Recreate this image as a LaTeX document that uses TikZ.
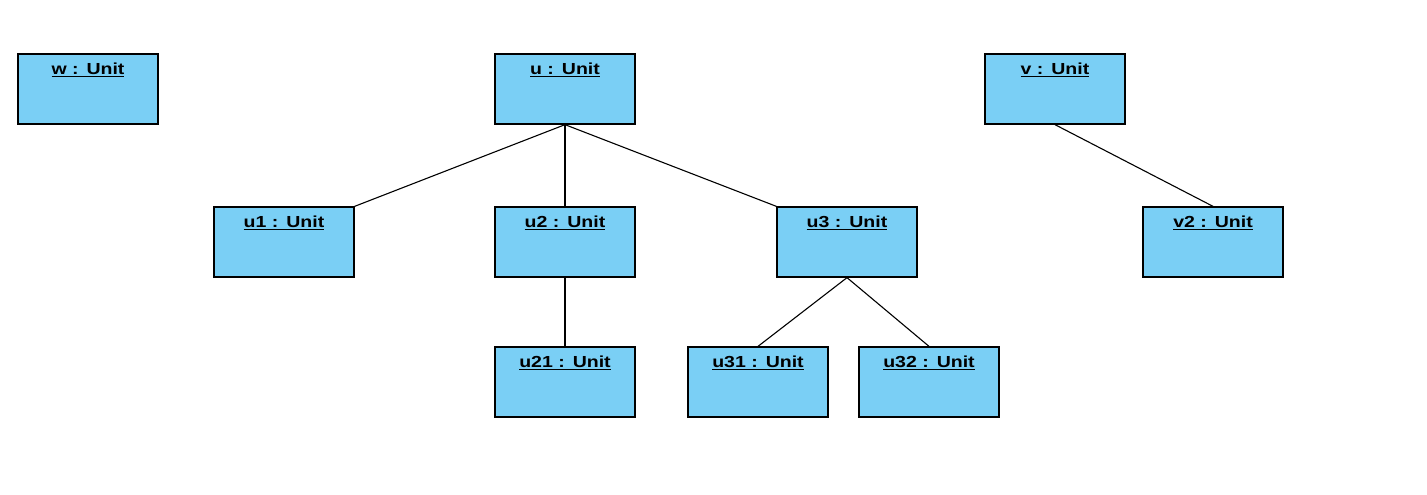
\documentclass[tikz,border=0pt]{standalone}
\usepackage{fontspec}
\newfontfamily\unitfont{Liberation Sans}[FakeStretch=1.22]
\definecolor{unitblue}{HTML}{7ACFF5}

\begin{document}
\begin{tikzpicture}[x=1pt, y=-1pt,
    object/.style={draw, line width=1.3pt, fill=unitblue, inner sep=0pt,
      text width=140pt, align=center, text height=20.5pt, text depth=49.5pt,
      font=\unitfont\fontsize{16}{18}\selectfont\bfseries},
    link/.style={line width=1.1pt}]

  % Page
  \useasboundingbox (0,0) rectangle (1427,495);

  % Objects
  \node[object] (w) at (88,89) {\underline{w : Unit}};
  \node[object] (u) at (565,89) {\underline{u : Unit}};
  \node[object] (v) at (1055,89) {\underline{v : Unit}};

  \node[object] (u1) at (284,242) {\underline{u1 : Unit}};
  \node[object] (u2) at (565,242) {\underline{u2 : Unit}};
  \node[object] (u3) at (847,242) {\underline{u3 : Unit}};
  \node[object] (v2) at (1213,242) {\underline{v2 : Unit}};

  \node[object] (u21) at (565,382) {\underline{u21 : Unit}};
  \node[object] (u31) at (758,382) {\underline{u31 : Unit}};
  \node[object] (u32) at (929,382) {\underline{u32 : Unit}};

  % Links
  \draw[link] (u.south) -- (u1.north east);
  \draw[link] (u.south) -- (u2.north);
  \draw[link] (u.south) -- (u3.north west);
  \draw[link] (v.south) -- (v2.north);
  \draw[link] (u2.south) -- (u21.north);
  \draw[link] (u3.south) -- (u31.north);
  \draw[link] (u3.south) -- (u32.north);

\end{tikzpicture}
\end{document}
